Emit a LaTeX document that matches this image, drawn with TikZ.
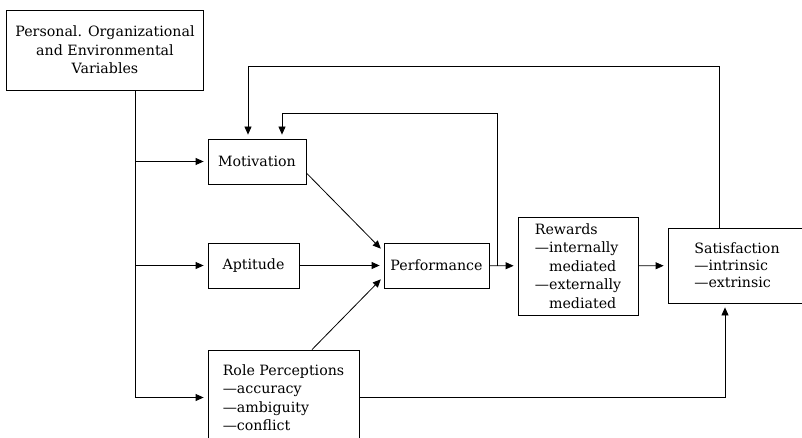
\documentclass[tikz,border=0pt]{standalone}
\usepackage{fontspec}
\setmainfont{DejaVu Serif}
\newfontfamily\diagfont{DejaVu Serif}
\usetikzlibrary{arrows.meta,calc}
\begin{document}
\begin{tikzpicture}[x=1pt,y=-1pt,
  box/.style={draw,line width=0.8pt,inner sep=0pt,
    font=\diagfont\fontsize{14.2}{18.5}\selectfont},
  conn/.style={line width=0.8pt,-{Triangle[length=8pt,width=7pt]},shorten >=4pt}]
\useasboundingbox (0,0) rectangle (802,438);
\clip (0,0) rectangle (802,438);

% boxes
\node[box,minimum width=197,minimum height=80,align=center] (pev) at (105,50)
  {Personal. Organizational\\and Environmental\\Variables};
\node[box,minimum width=98,minimum height=45] (mot) at (257,161.5) {Motivation};
\node[box,minimum width=91,minimum height=45] (apt) at (253.5,265.5) {Aptitude};
\node[box,minimum width=105,minimum height=45] (perf) at (436.5,265.5) {Performance};
\node[box,minimum width=120,minimum height=98,align=left] (rew) at (578,266)
  {Rewards\\—internally\\\phantom{—}mediated\\—externally\\\phantom{—}mediated};
\node[box,minimum width=138,minimum height=75,align=left,
  font=\diagfont\fontsize{14.2}{17}\selectfont] (sat) at (737,265.5)
  {Satisfaction\\—intrinsic\\—extrinsic};
\node[box,minimum width=151,minimum height=95,align=left] (role) at (283.5,397.5)
  {Role Perceptions\\—accuracy\\—ambiguity\\—conflict};

% distribution trunk from the variables box
\coordinate (trunk) at ($(pev.south)+(30,0)$);
\draw[line width=0.8pt] (trunk) -- (trunk |- role);
\draw[conn] (trunk |- mot) -- (mot);
\draw[conn] (trunk |- apt) -- (apt);
\draw[conn] (trunk |- role) -- (role);

% inputs to performance
\draw[conn] ($(mot.east)+(0,11.5)$) -- ($(perf.west)+(0,-14)$);
\draw[conn] (apt) -- (perf);
\draw[conn] ($(role.north)+(28.5,0)$) -- ($(perf.west)+(0,11)$);

% performance to rewards to satisfaction
\draw[conn] (perf) -- (rew);
\draw[conn] (rew) -- (sat);

% feedback loops
\coordinate (fb) at ($(perf.east)+(8,0)$);
\draw[conn] (fb) -- (fb |- 0,113) -| ($(mot.north)+(25,0)$);
\coordinate (sb) at ($(sat.north)+(-18,0)$);
\draw[conn] (sb) -- (sb |- 0,66) -| ($(mot.north)+(-9,0)$);

% role perceptions to satisfaction
\draw[conn] (role.east) -| ($(sat.south)+(-12,0)$);
\end{tikzpicture}
\end{document}
